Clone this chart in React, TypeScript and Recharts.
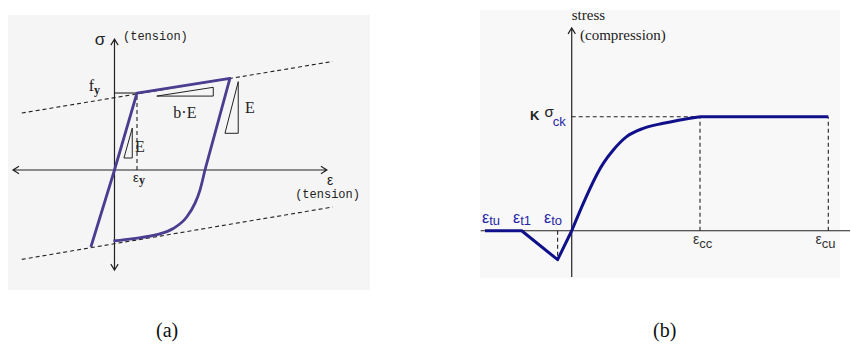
import React from "react";
import {
  LineChart,
  Line,
  XAxis,
  YAxis,
  ReferenceLine,
  ReferenceDot,
} from "recharts";

// ---- (a) steel: bilinear hysteresis (strain in εy, stress in fy) ----
const loopStrain = [-1.05, 0, 1, 5.13, 4.02];
const loopStress = [-1.0, 0, 1, 1.19, 0];
const reloadStrain = [-0.05, 0.84, 1.88, 2.61, 3.21, 3.58, 3.8, 4.02];
const reloadStress = [-0.92, -0.89, -0.84, -0.76, -0.61, -0.43, -0.26, 0];
const upperBoundStrain = [-4.12, 9.7];
const upperBoundStress = [0.74, 1.41];
const lowerBoundStrain = [-4.12, 9.7];
const lowerBoundStress = [-1.16, -0.48];
const slopeEStrain = [0.42, 0.79, 0.79, 0.42];
const slopeEStress = [0.156, 0.545, 0.156, 0.156];
const slopeBEStrain = [1.88, 4.39, 4.39, 1.88];
const slopeBEStress = [0.96, 1.074, 0.96, 0.96];
const unloadEStrain = [4.91, 5.5, 5.5, 4.91];
const unloadEStress = [0.477, 1.147, 0.477, 0.477];
const yieldStrain = 1;
const yieldStress = 1;

// ---- (b) concrete: strain in εcc, stress in Kσck ----
const tensionStrain = [-0.676, -0.39, -0.11, 0];
const tensionStress = [0, 0, -0.254, 0];
const compStrain = [0, 0.246, 0.324, 0.428, 0.558, 0.714, 1];
const compStress = [0, 0.591, 0.708, 0.825, 0.898, 0.942, 1];
const plateauStrain = [1, 2];
const plateauStress = [1, 1];
const eps = { tu: -0.676, t1: -0.39, to: -0.11, cc: 1, cu: 2 };
const peakStress = 1;

const pts = (xs: number[], ys: number[]) => xs.map((x, i) => ({ x, y: ys[i] }));

const PURPLE = "#4b3d8f";
const NAVY = "#10108a";
const INK = "#222";
const LABEL_BLUE = "#2626a6";
const SERIF = "'Liberation Serif', 'Times New Roman', serif";
const SANS = "'Liberation Sans', Arial, sans-serif";
const MONO = "'Liberation Mono', monospace";

// axis line with open chevron heads
const arrowAxis = (startHead: boolean, endHead: boolean) => (p: any) => {
  const { x1, y1, x2, y2 } = p;
  const a = Math.atan2(y2 - y1, x2 - x1);
  const head = (x: number, y: number, ang: number) => {
    const l = 7;
    const w = 0.55;
    return ` M${x - l * Math.cos(ang - w)},${y - l * Math.sin(ang - w)} L${x},${y} L${
      x - l * Math.cos(ang + w)
    },${y - l * Math.sin(ang + w)}`;
  };
  let d = `M${x1},${y1} L${x2},${y2}`;
  if (endHead) d += head(x2, y2, a);
  if (startHead) d += head(x1, y1, a + Math.PI);
  return <path d={d} fill="none" stroke={INK} strokeWidth={1.2} />;
};

const textAt = (key: string, x: number, y: number, draw: (cx: number, cy: number) => React.ReactElement) => (
  <ReferenceDot
    key={key}
    x={x}
    y={y}
    r={0}
    ifOverflow="visible"
    shape={(p: any) => draw(p.cx, p.cy)}
  />
);

const segment = (key: string, x1: number, y1: number, x2: number, y2: number, dashed: boolean, color = INK) => (
  <ReferenceLine
    key={key}
    segment={[{ x: x1, y: y1 }, { x: x2, y: y2 }]}
    stroke={color}
    strokeWidth={1.1}
    strokeDasharray={dashed ? "4 3" : undefined}
    ifOverflow="visible"
  />
);

const thinLine = (key: string, xs: number[], ys: number[]) => (
  <Line
    key={key}
    data={pts(xs, ys)}
    dataKey="y"
    type="linear"
    stroke={INK}
    strokeWidth={1}
    dot={false}
    activeDot={false}
    isAnimationActive={false}
  />
);

const SteelPanel = () => (
  <LineChart width={362} height={275} margin={{ top: 0, right: 0, bottom: 0, left: 0 }}>
    <XAxis type="number" dataKey="x" domain={[-4.733, 11.356]} hide allowDataOverflow />
    <YAxis type="number" domain={[-1.558, 2.013]} hide allowDataOverflow />
    <ReferenceLine
      segment={[{ x: -4.51, y: 0 }, { x: 9.44, y: 0 }]}
      ifOverflow="visible"
      shape={arrowAxis(true, true)}
    />
    <ReferenceLine
      segment={[{ x: 0, y: -1.3 }, { x: 0, y: 1.7 }]}
      ifOverflow="visible"
      shape={arrowAxis(true, true)}
    />
    <Line
      data={pts(upperBoundStrain, upperBoundStress)}
      dataKey="y"
      type="linear"
      stroke={INK}
      strokeWidth={1.1}
      strokeDasharray="4 3"
      dot={false}
      activeDot={false}
      isAnimationActive={false}
    />
    <Line
      data={pts(lowerBoundStrain, lowerBoundStress)}
      dataKey="y"
      type="linear"
      stroke={INK}
      strokeWidth={1.1}
      strokeDasharray="4 3"
      dot={false}
      activeDot={false}
      isAnimationActive={false}
    />
    {segment("fy", 0, yieldStress, yieldStrain, yieldStress, false)}
    {segment("ey", yieldStrain, 0, yieldStrain, yieldStress, true)}
    {thinLine("triE", slopeEStrain, slopeEStress)}
    {thinLine("triBE", slopeBEStrain, slopeBEStress)}
    {thinLine("triU", unloadEStrain, unloadEStress)}
    <Line
      data={pts(loopStrain, loopStress)}
      dataKey="y"
      type="linear"
      stroke={PURPLE}
      strokeWidth={2.8}
      strokeLinejoin="round"
      dot={false}
      activeDot={false}
      isAnimationActive={false}
    />
    <Line
      data={pts(reloadStrain, reloadStress)}
      dataKey="y"
      type="monotone"
      stroke={PURPLE}
      strokeWidth={2.8}
      dot={false}
      activeDot={false}
      isAnimationActive={false}
    />
    {textAt("sigma", -0.644, 1.7, (cx, cy) => (
      <text x={cx} y={cy} textAnchor="middle" dominantBaseline="central" fontFamily={SANS} fontSize={17} fill={INK}>
        σ
      </text>
    ))}
    {textAt("sigT", 0.378, 1.727, (cx, cy) => (
      <text x={cx} y={cy} dominantBaseline="central" fontFamily={MONO} fontSize={12} fill={INK}>
        (tension)
      </text>
    ))}
    {textAt("epsAx", 9.58, -0.13, (cx, cy) => (
      <text x={cx} y={cy} textAnchor="middle" dominantBaseline="central" fontFamily={SANS} fontSize={14} fill={INK}>
        ε
      </text>
    ))}
    {textAt("epsT", 9.47, -0.325, (cx, cy) => (
      <text x={cx} y={cy} textAnchor="middle" dominantBaseline="central" fontFamily={MONO} fontSize={12} fill={INK}>
        (tension)
      </text>
    ))}
    {textAt("fy", -0.644, 1.065, (cx, cy) => (
      <text x={cx} y={cy + 3} textAnchor="end" fontFamily={SERIF} fontSize={16} fill={INK}>
        f
        <tspan fontSize={12} fontWeight="bold" dy={3}>
          y
        </tspan>
      </text>
    ))}
    {textAt("epsY", 1.09, -0.104, (cx, cy) => (
      <text x={cx} y={cy + 4} textAnchor="middle" fontFamily={SANS} fontSize={13} fill={INK}>
        ε
        <tspan fontFamily={SERIF} fontSize={12} fontWeight="bold" dy={2}>
          y
        </tspan>
      </text>
    ))}
    {textAt("E1", 1.13, 0.31, (cx, cy) => (
      <text x={cx} y={cy} textAnchor="middle" dominantBaseline="central" fontFamily={SERIF} fontSize={16} fill={INK}>
        E
      </text>
    ))}
    {textAt("bE", 3.13, 0.75, (cx, cy) => (
      <text x={cx} y={cy} textAnchor="middle" dominantBaseline="central" fontFamily={SERIF} fontSize={16} fill={INK}>
        b·E
      </text>
    ))}
    {textAt("E2", 6.02, 0.81, (cx, cy) => (
      <text x={cx} y={cy} textAnchor="middle" dominantBaseline="central" fontFamily={SERIF} fontSize={16} fill={INK}>
        E
      </text>
    ))}
  </LineChart>
);

const epsLabel = (key: string, x: number, sub: string, color: string) =>
  textAt(key, x, 0.068, (cx, cy) => (
    <text x={cx} y={cy} fontFamily={SANS} fontSize={16} fill={color}>
      ε
      <tspan fontSize={13} dy={2}>
        {sub}
      </tspan>
    </text>
  ));

const ConcretePanel = () => (
  <LineChart width={371} height={272} margin={{ top: 0, right: 0, bottom: 0, left: 0 }}>
    <XAxis type="number" dataKey="x" domain={[-0.715, 2.177]} hide allowDataOverflow />
    <YAxis type="number" domain={[-0.432, 1.953]} hide allowDataOverflow />
    <ReferenceLine
      segment={[{ x: -0.71, y: 0 }, { x: 2.17, y: 0 }]}
      ifOverflow="visible"
      shape={arrowAxis(false, false)}
    />
    <ReferenceLine
      segment={[{ x: 0, y: -0.406 }, { x: 0, y: 1.778 }]}
      ifOverflow="visible"
      shape={arrowAxis(false, true)}
    />
    {segment("peak", 0, peakStress, eps.cc, peakStress, true)}
    {segment("cc", eps.cc, 0, eps.cc, peakStress, true)}
    {segment("cu", eps.cu, 0, eps.cu, peakStress, true)}
    {segment("to", eps.to, 0, eps.to, -0.22, true)}
    <Line
      data={pts(tensionStrain, tensionStress)}
      dataKey="y"
      type="linear"
      stroke={NAVY}
      strokeWidth={3}
      strokeLinejoin="round"
      dot={false}
      activeDot={false}
      isAnimationActive={false}
    />
    <Line
      data={pts(compStrain, compStress)}
      dataKey="y"
      type="monotone"
      stroke={NAVY}
      strokeWidth={3}
      dot={false}
      activeDot={false}
      isAnimationActive={false}
    />
    <Line
      data={pts(plateauStrain, plateauStress)}
      dataKey="y"
      type="linear"
      stroke={NAVY}
      strokeWidth={3}
      dot={false}
      activeDot={false}
      isAnimationActive={false}
    />
    {textAt("stress", 0.0, 1.89, (cx, cy) => (
      <text x={cx} y={cy} dominantBaseline="central" fontFamily={SERIF} fontSize={15} fill={INK}>
        stress
      </text>
    ))}
    {textAt("comp", 0.065, 1.72, (cx, cy) => (
      <text x={cx} y={cy} dominantBaseline="central" fontFamily={SERIF} fontSize={15} fill={INK}>
        (compression)
      </text>
    ))}
    {textAt("K", -0.325, 0.971, (cx, cy) => (
      <text x={cx} y={cy} fontFamily={SANS} fontSize={13} fill={INK}>
        <tspan fontWeight="bold">K</tspan>
        <tspan dx={5} dy={-3} fontSize={15}>
          σ
        </tspan>
        <tspan dy={9} dx={-1} fontSize={13} fill={LABEL_BLUE}>
          ck
        </tspan>
      </text>
    ))}
    {epsLabel("tu", eps.tu - 0.023, "tu", LABEL_BLUE)}
    {epsLabel("t1", eps.t1 - 0.067, "t1", LABEL_BLUE)}
    {epsLabel("t0", eps.to - 0.106, "to", LABEL_BLUE)}
    {textAt("ecc", eps.cc - 0.055, -0.117, (cx, cy) => (
      <text x={cx} y={cy} fontFamily={SANS} fontSize={14} fill="#333">
        ε<tspan fontSize={13} dy={4}>cc</tspan>
      </text>
    ))}
    {textAt("ecu", eps.cu - 0.1, -0.117, (cx, cy) => (
      <text x={cx} y={cy} fontFamily={SANS} fontSize={14} fill="#333">
        ε<tspan fontSize={13} dy={4}>cu</tspan>
      </text>
    ))}
  </LineChart>
);

const abs = (left: number, top: number, extra: React.CSSProperties = {}): React.CSSProperties => ({
  position: "absolute",
  left,
  top,
  ...extra,
});

export default function App() {
  return (
    <div style={abs(0, 0, { width: 851, height: 350, background: "#fff", overflow: "hidden" })}>
      <div style={abs(8, 15, { width: 362, height: 275, background: "#f5f5f5" })} />
      <div style={abs(480, 10, { width: 360, height: 268, background: "#f8f8f8" })} />
      <div style={abs(8, 15)}>
        <SteelPanel />
      </div>
      <div style={abs(480, 8)}>
        <ConcretePanel />
      </div>
      <div style={abs(156, 319, { fontFamily: SERIF, fontSize: 20, color: "#111" })}>(a)</div>
      <div style={abs(653, 319, { fontFamily: SERIF, fontSize: 20, color: "#111" })}>(b)</div>
    </div>
  );
}
